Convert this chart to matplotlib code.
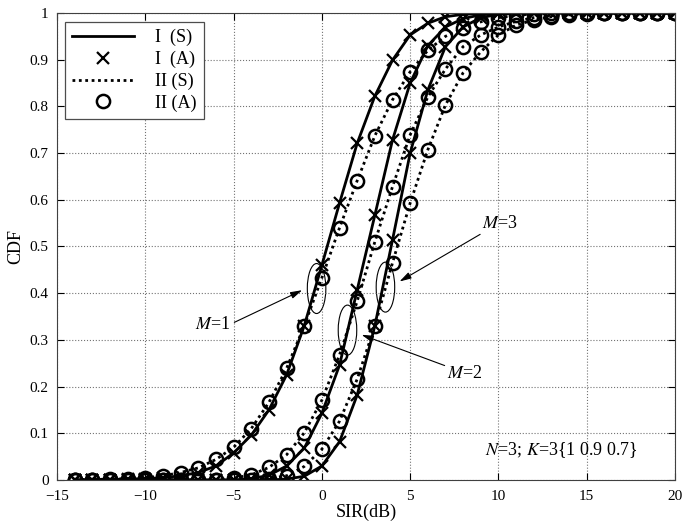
import numpy as np
import matplotlib
matplotlib.use("Agg")
import matplotlib.pyplot as plt
from matplotlib.patches import Ellipse

plt.rcParams['font.family'] = ['Liberation Serif', 'DejaVu Serif']
plt.rcParams['mathtext.fontset'] = 'stix'

# SIR grid (dB), one sample per dB
sir = np.arange(-14, 21)

# CDF values for receiver I and II, M = 1, 2, 3
m1_i = [0.0, 0.0005, 0.001, 0.002, 0.003, 0.005, 0.009, 0.016, 0.03, 0.058, 0.096, 0.15, 0.225,
        0.33, 0.46, 0.593, 0.721, 0.822, 0.899, 0.953, 0.978, 0.992, 0.997, 0.999,
        1, 1, 1, 1, 1, 1, 1, 1, 1, 1, 1]
m1_ii = [0.001, 0.001, 0.002, 0.003, 0.005, 0.009, 0.016, 0.026, 0.044, 0.07, 0.11, 0.166, 0.239,
         0.33, 0.433, 0.54, 0.641, 0.737, 0.814, 0.874, 0.92, 0.95, 0.967, 0.981, 0.99,
         0.995, 0.998, 0.999, 1, 1, 1, 1, 1, 1, 1]
m2_i = [0, 0, 0, 0, 0, 0, 0, 0, 0, 0, 0.003, 0.01, 0.03, 0.068, 0.143, 0.246, 0.407, 0.567,
        0.728, 0.85, 0.93, 0.97, 0.988, 0.996, 1, 1, 1, 1, 1, 1, 1, 1, 1, 1, 1]
m2_ii = [0, 0, 0, 0, 0, 0, 0, 0, 0.001, 0.004, 0.011, 0.027, 0.054, 0.101, 0.171, 0.268, 0.383,
         0.51, 0.628, 0.739, 0.82, 0.88, 0.928, 0.953, 0.97, 0.982, 0.99, 0.994, 0.997,
         0.999, 1, 1, 1, 1, 1]
m3_i = [0, 0, 0, 0, 0, 0, 0, 0, 0, 0, 0, 0, 0.002, 0.008, 0.03, 0.082, 0.182, 0.33, 0.514,
        0.70, 0.835, 0.928, 0.97, 0.99, 0.997, 1, 1, 1, 1, 1, 1, 1, 1, 1, 1]
m3_ii = [0, 0, 0, 0, 0, 0, 0, 0, 0, 0, 0.001, 0.003, 0.009, 0.029, 0.066, 0.126, 0.216, 0.33,
         0.465, 0.593, 0.707, 0.803, 0.872, 0.917, 0.953, 0.974, 0.985, 0.992, 0.996,
         0.998, 1, 1, 1, 1, 1]

legend_labels = ['I  (S)', 'I  (A)', 'II (S)', 'II (A)']

fig = plt.figure(figsize=(6.83, 5.23), dpi=100)
ax = fig.add_axes([0.0835, 0.0822, 0.9048, 0.893])

dots = (0, (1, 1.3))
for i, (yi, yii) in enumerate([(m1_i, m1_ii), (m2_i, m2_ii), (m3_i, m3_ii)]):
    ax.plot(sir, yi, color='k', lw=2.0, label=legend_labels[0] if i == 0 else None)
    ax.plot(sir, yi, ls='none', marker='x', ms=8, mew=1.6, color='k',
            label=legend_labels[1] if i == 0 else None)
    ax.plot(sir, yii, color='k', lw=2.0, ls=dots, label=legend_labels[2] if i == 0 else None)
    ax.plot(sir, yii, ls='none', marker='o', ms=9.5, mew=1.8, mfc='none', mec='k',
            label=legend_labels[3] if i == 0 else None)

# ellipses grouping each pair of curves
for cx, cy in [(-0.3, 0.41), (1.45, 0.321), (3.6, 0.413)]:
    ax.add_patch(Ellipse((cx, cy), 1.05, 0.107, fill=False, lw=0.8, color='k'))

arrow = dict(arrowstyle='-|>,head_length=0.7,head_width=0.2', lw=0.8, color='k')
ax.annotate('', xy=(-0.97, 0.409), xytext=(-5.1, 0.335), arrowprops=arrow)
ax.annotate('', xy=(2.1, 0.313), xytext=(7.1, 0.243), arrowprops=arrow)
ax.annotate('', xy=(4.26, 0.422), xytext=(9.1, 0.529), arrowprops=arrow)
ax.text(-5.15, 0.332, '$M$=1', ha='right', va='center', fontsize=13)
ax.text(7.1, 0.229, '$M$=2', ha='left', va='center', fontsize=13)
ax.text(9.05, 0.55, '$M$=3', ha='left', va='center', fontsize=13)
ax.text(17.9, 0.064, '$N$=3; $K$=3{1 0.9 0.7}', ha='right', va='center', fontsize=13)

ax.set_xlim(-15, 20)
ax.set_ylim(0, 1)
ax.set_xticks(np.arange(-15, 21, 5))
ax.set_yticks(np.arange(0, 1.01, 0.1))
ax.set_yticklabels(['0', '0.1', '0.2', '0.3', '0.4', '0.5', '0.6', '0.7', '0.8', '0.9', '1'])
ax.tick_params(direction='in', top=True, right=True, length=5, labelsize=11)
ax.tick_params(axis='x', pad=7)
ax.tick_params(axis='y', pad=6)
ax.grid(True, ls=':', color='0.45', lw=0.8)
for s in ax.spines.values():
    s.set_color('0.25')
ax.set_xlabel('SIR(dB)', fontsize=13, labelpad=1)
ax.set_ylabel('CDF', fontsize=13, labelpad=4)

leg = ax.legend(loc='upper left', bbox_to_anchor=(0.013, 0.981), borderaxespad=0, fontsize=13,
                handlelength=3.4, labelspacing=0.25, borderpad=0.4, fancybox=False,
                framealpha=1, edgecolor='0.3', handletextpad=1.2)
leg.get_frame().set_linewidth(0.9)

fig.savefig('out.png', dpi=100)
